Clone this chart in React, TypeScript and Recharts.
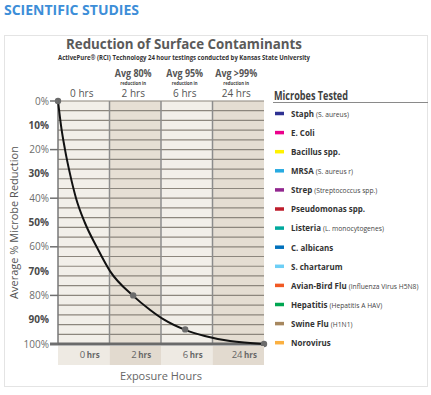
import {
  ComposedChart,
  Line,
  Scatter,
  XAxis,
  YAxis,
  ReferenceArea,
  ReferenceLine,
} from 'recharts'

const FONT = '"Open Sans", "Noto Sans", sans-serif'

// columns of the time axis
const columnLabels = ['0 hrs', '2 hrs', '6 hrs', '24 hrs']
const columnHeads = ['', 'Avg 80%', 'Avg 95%', 'Avg >99%']
const columnCenters = [0.5, 1.5, 2.5, 3.5]
const columnEdges = [0, 1, 2, 3, 4]
const columnFills = ['#f2efe9', '#e6dfd4', '#f2efe9', '#e4ddd2']
const bandFills = ['#eeeae3', '#e2dacf', '#eeeae3', '#e2dacf']

// measured samples (position along the column axis, % reduction)
const sampleHours = [0, 1.46, 2.47, 4]
const sampleReduction = [0, 80, 94, 100]

// decay curve
const curveHours = [0, 0.058, 0.136, 0.233, 0.35, 0.52, 0.75, 1.01, 1.46, 1.79, 2.06, 2.47, 2.85, 3.34, 4]
const curveReduction = [0, 10, 20, 30, 40, 50, 60, 70, 80.2, 86, 90, 94.2, 96.7, 98.8, 100]

const reductionTicks = [0, 10, 20, 30, 40, 50, 60, 70, 80, 90, 100]
const gridLines = [0, 4, 8, 12, 16, 20, 24, 28, 32, 36, 40, 44, 48, 52, 56, 60, 64, 68, 72, 76, 80, 84, 88, 92, 96]

const microbeNames = [
  'Staph', 'E. Coli', 'Bacillus spp.', 'MRSA', 'Strep', 'Pseudomonas spp.', 'Listeria',
  'C. albicans', 'S. chartarum', 'Avian-Bird Flu', 'Hepatitis', 'Swine Flu', 'Norovirus',
]
const microbeNotes = [
  '(S. aureus)', '', '', '(S. aureus r)', '(Streptococcus spp.)', '', '(L. monocytogenes)',
  '', '', '(Influenza Virus H5N8)', '(Hepatitis A HAV)', '(H1N1)', '',
]
const microbeColors = [
  '#2e3192', '#ec008c', '#fff200', '#27aae1', '#92278f', '#be1e2d', '#00a99d',
  '#0071bc', '#6dcff6', '#f15a24', '#00a651', '#a6875f', '#fbb040',
]

const curve = curveHours.map((h, i) => ({ h, r: curveReduction[i] }))
const samples = sampleHours.map((h, i) => ({ h, r: sampleReduction[i] }))

function ReductionTick({ x, y, payload }: any) {
  const v = payload.value
  const major = v % 20 === 0
  return (
    <g>
      {major && (
        <line x1={x - 8} x2={x} y1={y} y2={y} stroke="#707070" strokeWidth={v === 100 ? 3 : 1.5} />
      )}
      <text
        x={x - 9}
        y={y}
        dy={3.5}
        textAnchor="end"
        fontFamily={FONT}
        fontSize={10}
        fontWeight={major ? 400 : 700}
        fill={major ? '#6d6d6d' : '#4a4a4a'}
      >
        {v}%
      </text>
    </g>
  )
}

function HoursTick({ x, y, payload }: any) {
  const i = columnCenters.indexOf(payload.value)
  const [num, unit] = columnLabels[i].split(' ')
  return (
    <g>
      <rect x={x - 25.75} y={y + 2} width={51.5} height={19} fill={bandFills[i]} />
      <text x={x + 6} y={y + 13.5} textAnchor="middle" fontFamily={FONT} fill="#666">
        <tspan fontSize={9.5}>{num}</tspan>
        <tspan fontSize={8} fontWeight={700} dx={1.5}>{unit}</tspan>
      </text>
    </g>
  )
}

function HeadTick({ x, y, payload }: any) {
  const i = columnCenters.indexOf(payload.value)
  const head = columnHeads[i]
  return (
    <g fontFamily={FONT}>
      {head && (
        <g transform={`translate(${x - 2}, ${y - 24.5}) scale(0.85, 1)`}>
          <text textAnchor="middle" fontSize={10.5} fontWeight={700} fill="#555">{head}</text>
        </g>
      )}
      {head && (
        <g transform={`translate(${x - 2}, ${y - 16.5}) scale(0.85, 1)`}>
          <text textAnchor="middle" fontSize={5} fontWeight={700} fill="#444">reduction in</text>
        </g>
      )}
      <text x={x - 2} y={y - 4.5} textAnchor="middle" fontSize={10} fill="#555">
        {columnLabels[i]}
      </text>
    </g>
  )
}

export default function App() {
  return (
    <div style={{ position: 'relative', width: 431, height: 395, background: '#fff' }}>
      <style>{'body{margin:0}'}</style>
      <ComposedChart width={431} height={395} margin={{ top: 71, right: 167, bottom: 27, left: 8 }}>
        <XAxis
          type="number"
          dataKey="h"
          domain={[0, 4]}
          ticks={columnCenters}
          interval={0}
          tick={(p: any) => <HoursTick {...p} />}
          tickSize={0}
          tickMargin={0}
          axisLine={false}
          height={24}
          label={{
            value: 'Exposure Hours',
            position: 'bottom',
            offset: 4,
            fill: '#666',
            fontSize: 11,
            fontFamily: FONT,
          }}
        />
        <XAxis
          xAxisId="top"
          orientation="top"
          type="number"
          dataKey="h"
          domain={[0, 4]}
          ticks={columnCenters}
          interval={0}
          tick={(p: any) => <HeadTick {...p} />}
          tickSize={0}
          tickMargin={0}
          axisLine={false}
          height={30}
        />
        <YAxis
          type="number"
          dataKey="r"
          domain={[0, 100]}
          reversed
          ticks={reductionTicks}
          interval={0}
          tick={(p: any) => <ReductionTick {...p} />}
          tickSize={0}
          tickMargin={0}
          axisLine={false}
          width={50}
          label={{
            content: ({ viewBox }: any) => (
              <text
                transform={`translate(${viewBox.x + 5}, ${viewBox.y + viewBox.height / 2}) rotate(-90)`}
                textAnchor="middle"
                dominantBaseline="central"
                fontFamily={FONT}
                fontSize={11}
                fill="#555"
              >
                Average % Microbe Reduction
              </text>
            ),
          }}
        />
        {columnCenters.map((c, i) => (
          <ReferenceArea
            key={`col-${i}`}
            x1={columnEdges[i]}
            x2={columnEdges[i + 1]}
            y1={0}
            y2={100}
            fill={columnFills[i]}
            fillOpacity={1}
            stroke="none"
          />
        ))}
        {gridLines.map((v) => (
          <ReferenceLine key={`g-${v}`} y={v} stroke="#8c867d" strokeWidth={1.2} />
        ))}
        {columnEdges.slice(0, 4).map((e) => (
          <ReferenceLine key={`v-${e}`} x={e} stroke={e === 0 ? '#777' : '#8c8c8c'} strokeWidth={1.5} />
        ))}
        <ReferenceLine y={100} stroke="#6a6a6a" strokeWidth={3} />
        <Line
          data={curve}
          dataKey="r"
          type="monotone"
          stroke="#111"
          strokeWidth={2}
          dot={false}
          isAnimationActive={false}
        />
        <Scatter
          xAxisId="top"
          data={samples}
          dataKey="r"
          fill="#6b6b6b"
          isAnimationActive={false}
          shape={(p: any) => <circle cx={p.cx} cy={p.cy} r={3.2} fill="#6b6b6b" />}
        />
      </ComposedChart>

      <svg
        width={431}
        height={395}
        style={{ position: 'absolute', left: 0, top: 0, pointerEvents: 'none' }}
        fontFamily={FONT}
      >
        <text x={4} y={14.5} fontSize={14} fontWeight={700} fill="#3d8ed8" textLength={135} lengthAdjust="spacingAndGlyphs">
          SCIENTIFIC STUDIES
        </text>
        <rect x={4.5} y={35.5} width={423} height={351} fill="none" stroke="#e4e4e4" />
        <text x={184} y={49} textAnchor="middle" fontSize={15} fontWeight={700} fill="#5a5a5a" textLength={236} lengthAdjust="spacingAndGlyphs">
          Reduction of Surface Contaminants
        </text>
        <text x={184} y={60} textAnchor="middle" fontSize={7} fontWeight={700} fill="#333" textLength={252} lengthAdjust="spacingAndGlyphs">
          ActivePure® (RCI) Technology 24 hour testings conducted by Kansas State University
        </text>
        <text x={274} y={100} fontSize={11.5} fontWeight={700} fill="#404040" textLength={74} lengthAdjust="spacingAndGlyphs">
          Microbes Tested
        </text>
        <line x1={273} x2={428} y1={102.5} y2={102.5} stroke="#8a8a8a" strokeWidth={1} />
        {microbeNames.map((name, i) => {
          const cy = 113.5 + i * 19.1
          return (
            <g key={name}>
              <rect x={275} y={cy - 1.75} width={9} height={3.5} fill={microbeColors[i]} />
              <g transform={`translate(291, ${cy + 3.3}) scale(0.84, 1)`}>
                <text x={0} y={0} fill="#333">
                  <tspan fontSize={9.5} fontWeight={700}>{name}</tspan>
                  {microbeNotes[i] && (
                    <tspan fontSize={8} fill="#444" dx={2.5}>{microbeNotes[i]}</tspan>
                  )}
                </text>
              </g>
            </g>
          )
        })}
      </svg>
    </div>
  )
}
